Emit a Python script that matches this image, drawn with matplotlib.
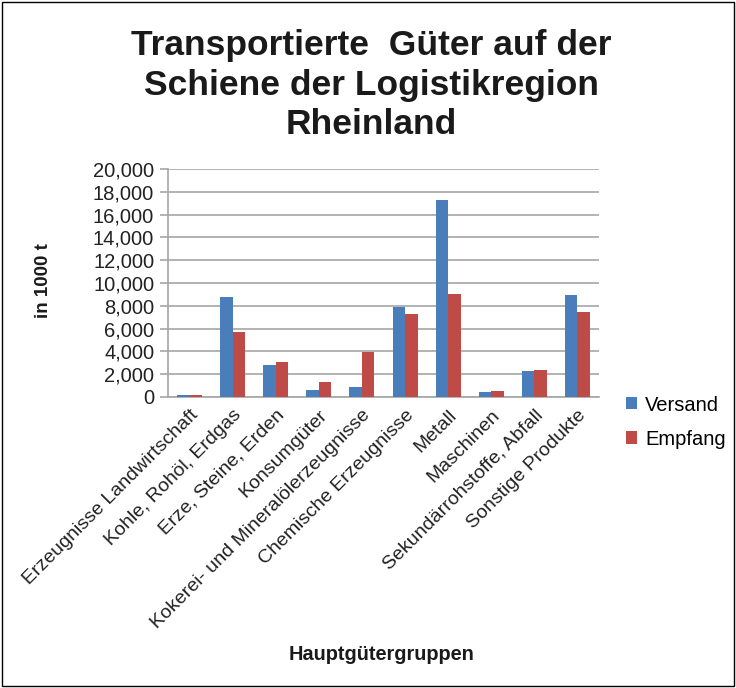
import matplotlib
matplotlib.use("Agg")
import matplotlib.pyplot as plt
from matplotlib.patches import Rectangle
import numpy as np

plt.rcParams['font.family'] = ['Liberation Sans', 'DejaVu Sans']

categories = ["Erzeugnisse Landwirtschaft", "Kohle, Rohöl, Erdgas", "Erze, Steine, Erden",
              "Konsumgüter", "Kokerei- und Mineralölerzeugnisse", "Chemische Erzeugnisse",
              "Metall", "Maschinen", "Sekundärrohstoffe, Abfall", "Sonstige Produkte"]
versand = [200, 8800, 2800, 650, 900, 7900, 17300, 470, 2320, 8950]
empfang = [200, 5700, 3050, 1270, 3920, 7280, 9030, 560, 2330, 7450]
yticks = [0, 2000, 4000, 6000, 8000, 10000, 12000, 14000, 16000, 18000, 20000]

fig = plt.figure(figsize=(7.36, 6.88), dpi=100)
fig.patches.append(Rectangle((0.003, 0.003), 0.994, 0.994, transform=fig.transFigure,
                             fill=False, edgecolor='black', linewidth=1.0))
ax = fig.add_axes([0.2283, 0.423, 0.5856, 0.3314])

x = np.arange(len(categories))
w = 0.29
ax.bar(x - w/2, versand, w, color='#4A7EBB', label='Versand', zorder=3)
ax.bar(x + w/2, empfang, w, color='#BE4B48', label='Empfang', zorder=3)

ax.set_xlim(-0.5, len(categories) - 0.5)
ax.set_ylim(0, 20000)
ax.set_yticks(yticks)
ax.set_yticklabels([f"{v:,}" for v in yticks], fontsize=14.5, color='#222222')
ax.yaxis.grid(True, color='#A6A6A6', linewidth=1.2, zorder=0)
ax.set_xticks(x)
ax.set_xticklabels(categories, rotation=45, ha='right', rotation_mode='anchor',
                   fontsize=14, color='#222222')
ax.tick_params(axis='x', length=0, pad=7)
ax.tick_params(axis='y', length=6, color='#A6A6A6', width=1.2, pad=4)
for s in ['top', 'right']:
    ax.spines[s].set_visible(False)
for s in ['left', 'bottom']:
    ax.spines[s].set_color('#A6A6A6')
    ax.spines[s].set_linewidth(1.2)

fig.text(44/736, 1 - 281/688, "in 1000 t", rotation=90, ha='center', va='center',
         fontsize=13.5, fontweight='bold', color='#1a1a1a')
fig.text(382/736, 1 - 655/688, "Hauptgütergruppen", ha='center', va='center',
         fontsize=14.3, fontweight='bold', color='#1a1a1a')
fig.text(0.505, 1 - 85/688, "Transportierte  Güter auf der\nSchiene der Logistikregion\nRheinland",
         ha='center', va='center', fontsize=25.5, fontweight='bold', linespacing=1.25,
         color='#1a1a1a')

ax.legend(loc='center left', bbox_to_anchor=(1.02, -0.11), frameon=False,
          fontsize=14.5, handlelength=0.55, handleheight=0.55, handletextpad=0.4,
          labelspacing=0.75)

fig.savefig("out.png", dpi=100)
